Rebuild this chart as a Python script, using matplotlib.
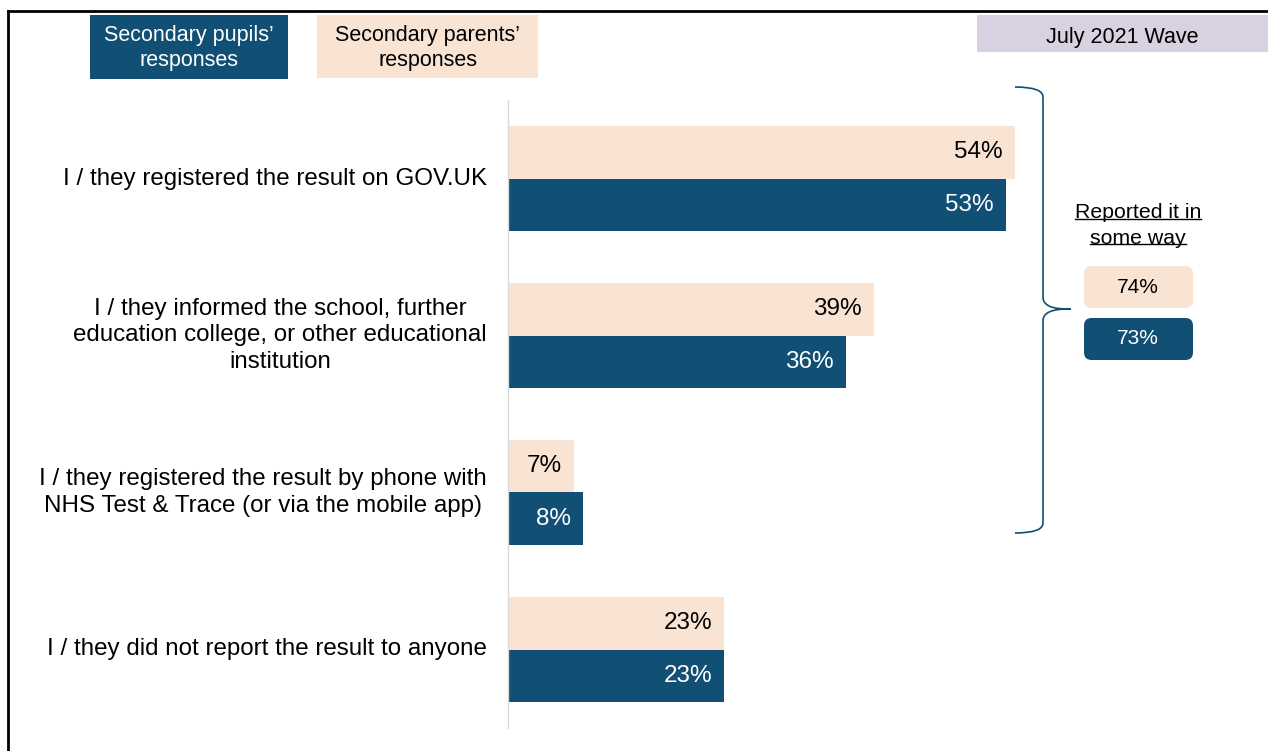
"""Horizontal bar chart: how secondary pupils / parents reported a positive test result."""

import matplotlib
matplotlib.use('Agg')
import matplotlib.pyplot as plt
from matplotlib.lines import Line2D
from matplotlib.patches import FancyBboxPatch, PathPatch, Rectangle
from matplotlib.path import Path
import numpy as np

plt.rcParams['font.family'] = ['Liberation Sans', 'DejaVu Sans']

# ---------------------------------------------------------------------------
# Data
# ---------------------------------------------------------------------------

categories = [
    'I / they registered the result on GOV.UK',
    'I / they informed the school, further\neducation college, or other educational\ninstitution',
    'I / they registered the result by phone with\nNHS Test & Trace (or via the mobile app)',
    'I / they did not report the result to anyone',
]
parents = [54, 39, 7, 23]
pupils = [53, 36, 8, 23]

reported_parents = 74
reported_pupils = 73

wave_label = 'July 2021 Wave'
pupil_label = 'Secondary pupils\u2019\nresponses'
parent_label = 'Secondary parents\u2019\nresponses'
summary_label = ['Reported it in', 'some way']

# ---------------------------------------------------------------------------
# Style
# ---------------------------------------------------------------------------

NAVY = '#124F74'
PEACH = '#F9E4D3'
LAVENDER = '#D8D1E1'
W, H = 1268, 751


def fx(x):
    return x / W


def fy(y):
    return 1 - y / H


fig = plt.figure(figsize=(W / 100, H / 100), dpi=100)

# slide frame (top + left edges)
fig.add_artist(Line2D([fx(8), fx(W)], [fy(11), fy(11)], color='black', lw=2))
fig.add_artist(Line2D([fx(8), fx(8)], [fy(11), 0], color='black', lw=2))

# ---------------------------------------------------------------------------
# Bars
# ---------------------------------------------------------------------------

ax_left, ax_right, ax_top, ax_bot = 508, W, 100, 728
ax = fig.add_axes([fx(ax_left), fy(ax_bot), fx(ax_right - ax_left), (ax_bot - ax_top) / H])
px_per_pct = (1015 - 508) / 54
ax.set_xlim(0, (ax_right - ax_left) / px_per_pct)
ax.set_ylim(len(categories) - 0.5, -0.5)

y = np.arange(len(categories))
h = 0.334
ax.barh(y - h / 2, parents, height=h, color=PEACH)
ax.barh(y + h / 2, pupils, height=h, color=NAVY)

off = 12 / px_per_pct
for i, (p, s) in enumerate(zip(parents, pupils)):
    ax.text(p - off, i - h / 2, f'{p}%', ha='right', va='center', fontsize=17.5, color='black')
    ax.text(s - off, i + h / 2, f'{s}%', ha='right', va='center', fontsize=17.5, color='white')

for sp in ['top', 'right', 'bottom']:
    ax.spines[sp].set_visible(False)
ax.spines['left'].set_color('#D9D9D9')
ax.spines['left'].set_linewidth(1)
ax.set_xticks([])
ax.set_yticks([])
ax.patch.set_alpha(0)

for i, cat in enumerate(categories):
    ax.annotate(cat, xy=(0, i), xycoords=('axes fraction', 'data'),
                xytext=(-21, 0), textcoords='offset pixels',
                ha='right', va='center', multialignment='center',
                fontsize=17.4, linespacing=1.24)

# ---------------------------------------------------------------------------
# Header boxes
# ---------------------------------------------------------------------------

def header_box(x0, y0, x1, y1, color, text, tcolor, fs=15.5, ty=None):
    fig.add_artist(Rectangle((fx(x0), fy(y1)), fx(x1 - x0), (y1 - y0) / H,
                             facecolor=color, edgecolor='none'))
    ty = (y0 + y1) / 2 if ty is None else ty
    fig.text(fx((x0 + x1) / 2), fy(ty), text, ha='center', va='center',
             fontsize=fs, color=tcolor, linespacing=1.25)


header_box(90, 15, 288, 79, NAVY, pupil_label, 'white', ty=48)
header_box(317, 15, 538, 78, PEACH, parent_label, 'black', ty=48)
header_box(977, 15, W, 52, LAVENDER, wave_label, 'black', ty=37)

# ---------------------------------------------------------------------------
# Bracket and summary
# ---------------------------------------------------------------------------

bx, tip, top, mid, bot, x0 = 1043, 1071, 87, 309, 533, 1015
verts = [
    (x0, top), (bx, top), (bx, top + 10),
    (bx, mid - 12),
    (bx, mid), (tip - 10, mid), (tip, mid),
    (tip - 10, mid), (bx, mid), (bx, mid + 12),
    (bx, bot - 10),
    (bx, bot), (x0, bot),
]
codes = [Path.MOVETO, Path.CURVE3, Path.CURVE3,
         Path.LINETO,
         Path.CURVE4, Path.CURVE4, Path.CURVE4,
         Path.CURVE4, Path.CURVE4, Path.CURVE4,
         Path.LINETO,
         Path.CURVE3, Path.CURVE3]
verts = [(fx(a), fy(b)) for a, b in verts]
fig.add_artist(PathPatch(Path(verts, codes), facecolor='none', edgecolor=NAVY,
                         lw=1.2, transform=fig.transFigure))

cx = 1138
line_texts = []
for k, line in enumerate(summary_label):
    line_texts.append(fig.text(fx(cx), fy(212 + 26 * k), line, ha='center', va='center',
                               fontsize=15.3, color='black'))

fig.canvas.draw()
renderer = fig.canvas.get_renderer()
inv = fig.transFigure.inverted()
for t in line_texts:
    bb = t.get_window_extent(renderer)
    (a, b), (c, d) = inv.transform([(bb.x0, bb.y0), (bb.x1, bb.y0)])
    fig.add_artist(Line2D([a, c], [b + 3 / H, d + 3 / H], color='black', lw=1))

for yy, val, col, tcol in [(266, reported_parents, PEACH, 'black'),
                           (318, reported_pupils, NAVY, 'white')]:
    fig.add_artist(FancyBboxPatch((fx(1084), fy(yy + 42)), fx(109), 42 / H,
                                  boxstyle='round,pad=0,rounding_size=0.006',
                                  facecolor=col, edgecolor='none',
                                  transform=fig.transFigure, mutation_aspect=W / H))
    fig.text(fx(1138), fy(yy + 21), f'{val}%', ha='center', va='center',
             fontsize=15, color=tcol)

fig.savefig('out.png', dpi=100)
